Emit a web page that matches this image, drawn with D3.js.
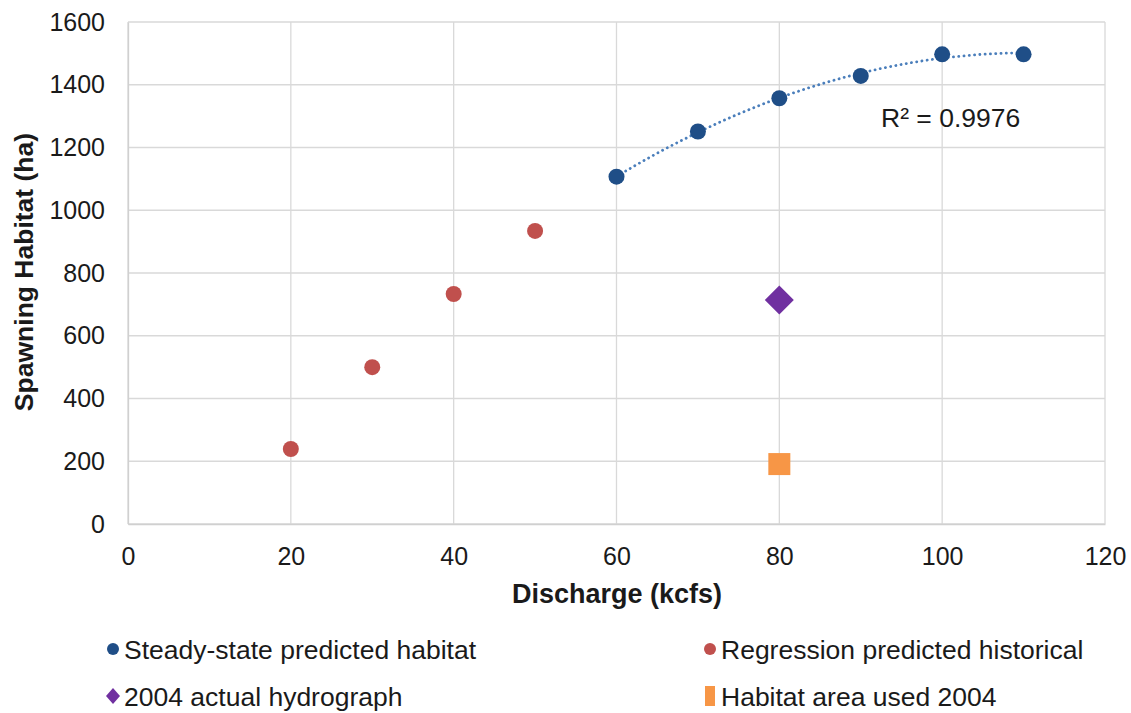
<!DOCTYPE html>
<html>
<head>
<meta charset="utf-8">
<script src="https://cdn.jsdelivr.net/npm/d3@7/dist/d3.min.js"></script>
<style>
  body { margin: 0; background: #fff; }
  svg { display: block; font-family: "Liberation Sans", Arial, sans-serif; }
</style>
</head>
<body>
<svg id="chart" width="1131" height="713"></svg>
<script>
// Steady-state model results (discharge kcfs, habitat ha)
const steadyX = [60, 70, 80, 90, 100, 110];
const steadyY = [1107, 1251, 1357, 1428, 1497, 1497];
// Regression-predicted historical habitat
const regressX = [20, 30, 40, 50];
const regressY = [239, 500, 733, 934];
// 2004 observations
const hydroX = [80];
const hydroY = [714];
const usedX = [80];
const usedY = [191];

const xTicks = [0, 20, 40, 60, 80, 100, 120];
const yTicks = [0, 200, 400, 600, 800, 1000, 1200, 1400, 1600];
const r2Label = "R² = 0.9976";

const legendItems = [
  { label: "Steady-state predicted habitat", shape: "circle", color: "#1f4e87" },
  { label: "Regression predicted historical", shape: "circle", color: "#c0504d" },
  { label: "2004 actual hydrograph", shape: "diamond", color: "#7030a0" },
  { label: "Habitat area used 2004", shape: "square", color: "#f79646" }
];

const svg = d3.select("#chart");
const m = { left: 128, right: 1105, top: 22, bottom: 524 };

const x = d3.scaleLinear().domain([0, 120]).range([m.left, m.right]);
const y = d3.scaleLinear().domain([0, 1600]).range([m.bottom, m.top]);

// Gridlines
const grid = svg.append("g");
grid.selectAll(".vg").data(xTicks).enter().append("line")
  .attr("x1", d => x(d)).attr("x2", d => x(d))
  .attr("y1", m.top).attr("y2", m.bottom)
  .attr("stroke", "#d9d9d9").attr("stroke-width", 1.3);
grid.selectAll(".hg").data(yTicks).enter().append("line")
  .attr("x1", m.left).attr("x2", m.right)
  .attr("y1", d => y(d)).attr("y2", d => y(d))
  .attr("stroke", "#d9d9d9").attr("stroke-width", 1.3);

// Axes (labels only; lines come from the grid)
const fmt = d3.format("d");
const xAxis = svg.append("g").attr("transform", `translate(0,${m.bottom})`)
  .call(d3.axisBottom(x).tickValues(xTicks).tickFormat(fmt).tickSize(0).tickPadding(23));
const yAxis = svg.append("g").attr("transform", `translate(${m.left},0)`)
  .call(d3.axisLeft(y).tickValues(yTicks).tickFormat(fmt).tickSize(0).tickPadding(23));
[xAxis, yAxis].forEach(a => {
  a.attr("font-size", 25).attr("font-family", "Liberation Sans, Arial, sans-serif");
  a.select(".domain").attr("stroke", "#d0d0d0").attr("stroke-width", 1.3);
  a.selectAll("text").attr("fill", "#1a1a1a");
});

// Axis titles
svg.append("text").attr("x", 617).attr("y", 603)
  .attr("text-anchor", "middle").attr("font-size", 27).attr("font-weight", "bold")
  .attr("fill", "#1a1a1a").text("Discharge (kcfs)");
svg.append("text").attr("transform", `translate(33,272) rotate(-90)`)
  .attr("text-anchor", "middle").attr("font-size", 26.5).attr("font-weight", "bold")
  .attr("fill", "#1a1a1a").text("Spawning Habitat (ha)");

// Quadratic least-squares trendline through the steady-state points
function quadFit(xs, ys) {
  const n = xs.length;
  let s = [0, 0, 0, 0, 0], t = [0, 0, 0];
  for (let i = 0; i < n; i++) {
    for (let k = 0; k <= 4; k++) s[k] += Math.pow(xs[i], k);
    for (let k = 0; k <= 2; k++) t[k] += ys[i] * Math.pow(xs[i], k);
  }
  const A = [[s[0], s[1], s[2], t[0]], [s[1], s[2], s[3], t[1]], [s[2], s[3], s[4], t[2]]];
  for (let c = 0; c < 3; c++) {
    for (let r = c + 1; r < 3; r++) {
      const f = A[r][c] / A[c][c];
      for (let k = c; k < 4; k++) A[r][k] -= f * A[c][k];
    }
  }
  const b = [0, 0, 0];
  for (let r = 2; r >= 0; r--) {
    let v = A[r][3];
    for (let k = r + 1; k < 3; k++) v -= A[r][k] * b[k];
    b[r] = v / A[r][r];
  }
  return xv => b[0] + b[1] * xv + b[2] * xv * xv;
}
const fit = quadFit(steadyX, steadyY);
const curve = d3.range(steadyX[0], steadyX[steadyX.length - 1] + 0.01, 0.5).map(v => [v, fit(v)]);
svg.append("path").datum(curve)
  .attr("d", d3.line().x(d => x(d[0])).y(d => y(d[1])))
  .attr("fill", "none").attr("stroke", "#4a7ebb").attr("stroke-width", 2.8)
  .attr("stroke-dasharray", "0.1 5.2").attr("stroke-linecap", "round");

svg.append("text").attr("x", 881).attr("y", 127).attr("font-size", 26.5)
  .attr("fill", "#1a1a1a").text(r2Label);

// Markers
function zip(xs, ys) { return xs.map((v, i) => ({ x: v, y: ys[i] })); }
svg.append("g").selectAll("circle").data(zip(regressX, regressY)).enter().append("circle")
  .attr("cx", d => x(d.x)).attr("cy", d => y(d.y)).attr("r", 8).attr("fill", legendItems[1].color);
svg.append("g").selectAll("circle").data(zip(steadyX, steadyY)).enter().append("circle")
  .attr("cx", d => x(d.x)).attr("cy", d => y(d.y)).attr("r", 8).attr("fill", legendItems[0].color);
svg.append("g").selectAll("path").data(zip(hydroX, hydroY)).enter().append("path")
  .attr("transform", d => `translate(${x(d.x)},${y(d.y)})`)
  .attr("d", "M0,-14.5L14.5,0L0,14.5L-14.5,0Z").attr("fill", legendItems[2].color);
svg.append("g").selectAll("rect").data(zip(usedX, usedY)).enter().append("rect")
  .attr("x", d => x(d.x) - 11).attr("y", d => y(d.y) - 11)
  .attr("width", 22).attr("height", 22).attr("fill", legendItems[3].color);

// Legend
const legPos = [[113, 649], [710, 649], [113, 696], [710, 696]];
const leg = svg.append("g").selectAll("g").data(legendItems).enter().append("g")
  .attr("transform", (d, i) => `translate(${legPos[i][0]},${legPos[i][1]})`);
leg.each(function (d) {
  const g = d3.select(this);
  if (d.shape === "circle") g.append("circle").attr("r", 6).attr("fill", d.color);
  else if (d.shape === "diamond") g.append("path").attr("d", "M0,-8L7,0L0,8L-7,0Z").attr("fill", d.color);
  else g.append("rect").attr("x", -5).attr("y", -10).attr("width", 10).attr("height", 20).attr("fill", d.color);
  g.append("text").attr("x", 11).attr("dy", "0.36em").attr("font-size", 26.5)
    .attr("fill", "#1a1a1a").text(d.label);
});
</script>
</body>
</html>
